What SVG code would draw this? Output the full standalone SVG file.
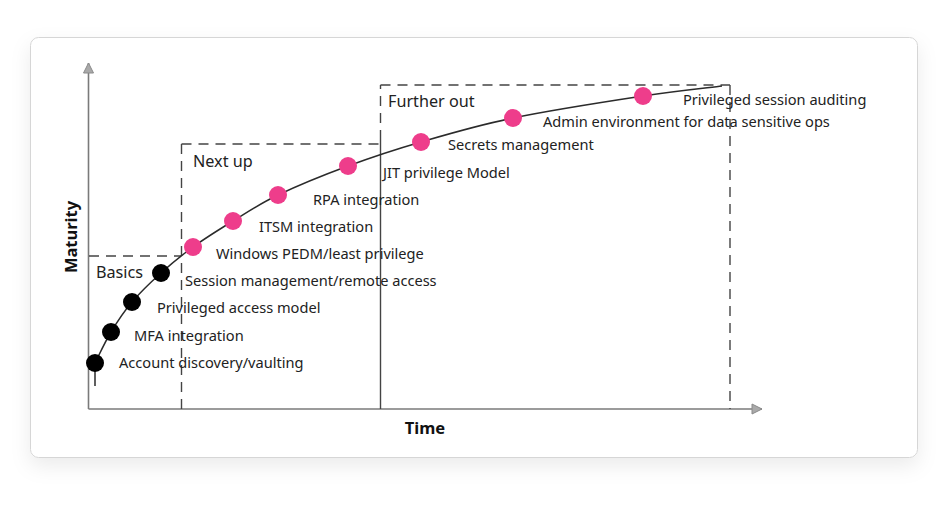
<svg xmlns="http://www.w3.org/2000/svg" width="950" height="509" viewBox="0 0 950 509">
  <defs>
    <filter id="shadow" x="-10%" y="-10%" width="120%" height="130%">
      <feDropShadow dx="0" dy="8" stdDeviation="10" flood-color="#000" flood-opacity="0.08"/>
    </filter>
    <marker id="arrow" viewBox="0 0 12 12" refX="11" refY="6" markerWidth="12" markerHeight="12" markerUnits="userSpaceOnUse" orient="auto">
      <path d="M1,1 L11,6 L1,11 Z" fill="#a9a9a9" stroke="#8a8a8a" stroke-width="1"/>
    </marker>
    <style>
      .axis { stroke: #7a7a7a; stroke-width: 1.6; fill: none; }
      .dash { stroke: #444; stroke-width: 1.4; fill: none; stroke-dasharray: 10 7; }
      .solid { stroke: #444; stroke-width: 1.4; fill: none; }
      .curve { stroke: #2b2b2b; stroke-width: 1.5; fill: none; }
      .dotb { fill: #000; }
      .dotp { fill: #ee3d8b; }
      .lbl { font-family: "Noto Sans", "Liberation Sans", sans-serif; font-size: 14.6px; fill: #222; }
      .hdr { font-family: "Noto Sans", "Liberation Sans", sans-serif; font-size: 16.2px; fill: #222; }
      .ax { font-family: "Noto Sans", "Liberation Sans", sans-serif; font-size: 16.5px; font-weight: bold; fill: #111; }
    </style>
  </defs>
  <rect width="950" height="509" fill="#ffffff"/>
  <rect x="30.5" y="37.5" width="887" height="420" rx="8" fill="#ffffff" stroke="#d6d6d6" stroke-width="1" filter="url(#shadow)"/>

  <g id="axes">
    <line class="axis" x1="88.5" y1="409" x2="88.5" y2="63" marker-end="url(#arrow)"/>
    <line class="axis" x1="88.5" y1="409" x2="762" y2="409" marker-end="url(#arrow)"/>
    <text class="ax" x="425" y="434" text-anchor="middle">Time</text>
    <text class="ax" transform="translate(77,237) rotate(-90)" text-anchor="middle">Maturity</text>
  </g>

  <g id="zones">
    <g id="zone-basics">
      <line class="dash" x1="89" y1="256" x2="181" y2="256"/>
      <text class="hdr" x="96" y="278">Basics</text>
    </g>
    <g id="zone-nextup">
      <line class="dash" x1="181.5" y1="409" x2="181.5" y2="144"/>
      <line class="dash" x1="181.5" y1="144" x2="380" y2="144"/>
      <text class="hdr" x="193" y="167">Next up</text>
    </g>
    <g id="zone-furtherout">
      <line class="solid" x1="380.5" y1="409" x2="380.5" y2="140"/>
      <line class="dash" x1="380.5" y1="140" x2="380.5" y2="85"/>
      <line class="dash" x1="380.5" y1="85" x2="730" y2="85"/>
      <line class="dash" x1="730" y1="85" x2="730" y2="409"/>
      <text class="hdr" x="388" y="107">Further out</text>
    </g>
  </g>

  <g id="connectors">
    <path class="curve" d="M95,386 L95,363 C97.7,357.8 104.8,342.2 111,332 C117.2,321.8 123.7,311.8 132,302 C140.3,292.2 150.8,282.2 161,273 C171.2,263.8 181,255.7 193,247 C205,238.3 218.8,229.7 233,221 C247.2,212.3 258.8,204.2 278,195 C297.2,185.8 324.2,174.8 348,166 C371.8,157.2 393.5,150 421,142 C448.5,134 476,125.7 513,118 C550,110.3 608.2,101.3 643,96 C677.8,90.7 708.8,87.7 722,86"/>
  </g>

  <g id="n1"><circle class="dotb" cx="95" cy="363" r="9"/><text class="lbl" x="119" y="368">Account discovery/vaulting</text></g>
  <g id="n2"><circle class="dotb" cx="111" cy="332" r="9"/><text class="lbl" x="134" y="341">MFA integration</text></g>
  <g id="n3"><circle class="dotb" cx="132" cy="302" r="9"/><text class="lbl" x="157" y="313">Privileged access model</text></g>
  <g id="n4"><circle class="dotb" cx="161" cy="273" r="9"/><text class="lbl" x="185" y="286">Session management/remote access</text></g>
  <g id="n5"><circle class="dotp" cx="193" cy="247" r="9"/><text class="lbl" x="216" y="259">Windows PEDM/least privilege</text></g>
  <g id="n6"><circle class="dotp" cx="233" cy="221" r="9"/><text class="lbl" x="259" y="232">ITSM integration</text></g>
  <g id="n7"><circle class="dotp" cx="278" cy="195" r="9"/><text class="lbl" x="313" y="205">RPA integration</text></g>
  <g id="n8"><circle class="dotp" cx="348" cy="166" r="9"/><text class="lbl" x="383" y="178">JIT privilege Model</text></g>
  <g id="n9"><circle class="dotp" cx="421" cy="142" r="9"/><text class="lbl" x="448" y="150">Secrets management</text></g>
  <g id="n10"><circle class="dotp" cx="513" cy="118" r="9"/><text class="lbl" x="543" y="127">Admin environment for data sensitive ops</text></g>
  <g id="n11"><circle class="dotp" cx="643" cy="96" r="9"/><text class="lbl" x="683" y="105">Privileged session auditing</text></g>
</svg>
